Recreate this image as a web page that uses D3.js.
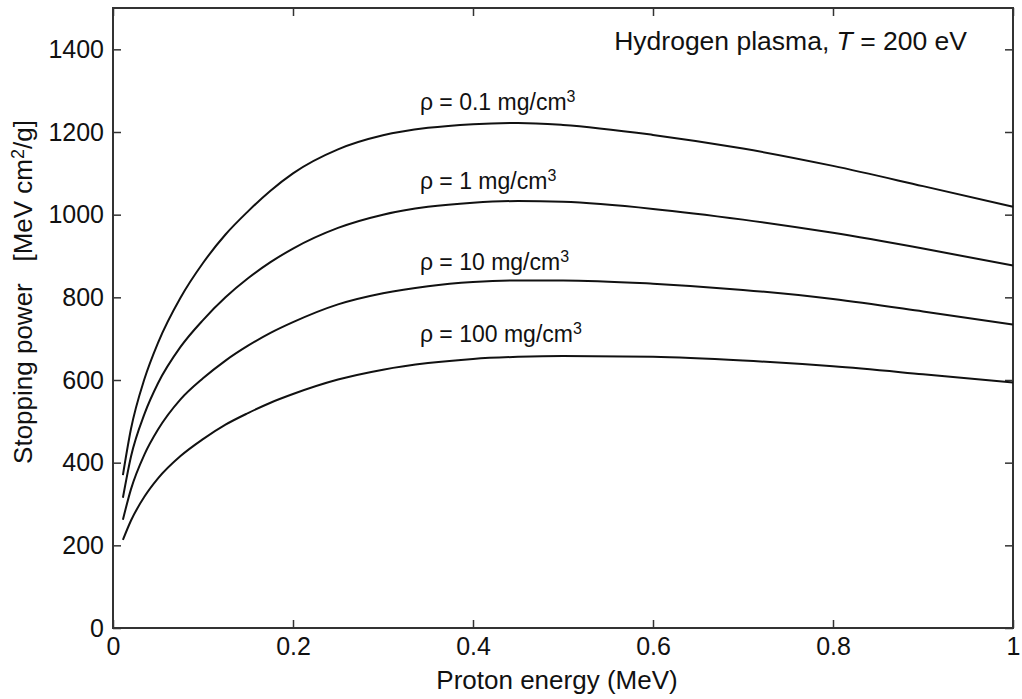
<!DOCTYPE html>
<html>
<head>
<meta charset="utf-8">
<script src="https://cdn.jsdelivr.net/npm/d3@7"></script>
<style>
  html, body { margin: 0; padding: 0; background: #fff; }
  svg { display: block; font-family: "Liberation Sans", Arial, Helvetica, sans-serif; }
</style>
</head>
<body>
<svg id="chart" width="1022" height="699"></svg>
<script>
// Proton energy grid (MeV)
const energy = [0.011, 0.02, 0.035, 0.05, 0.075, 0.1, 0.125, 0.15, 0.175, 0.2, 0.25, 0.3, 0.35, 0.4, 0.45, 0.5, 0.6, 0.7, 0.8, 0.9, 1.0];

// Stopping power (MeV cm^2/g) for each plasma density
const rho01  = [370, 482, 603, 690, 799, 883, 952, 1008, 1058, 1100, 1158, 1192, 1210, 1219, 1222, 1217, 1193, 1160, 1118, 1069, 1019];
const rho1   = [315, 415, 518, 592, 680, 745, 800, 846, 885, 918, 968, 1000, 1019, 1029, 1033, 1031, 1014, 988, 956, 918, 877];
const rho10  = [262, 336, 420, 480, 553, 604, 647, 683, 714, 740, 783, 810, 827, 837, 841, 841, 833, 818, 796, 766, 734];
const rho100 = [213, 260, 318, 362, 416, 457, 492, 520, 545, 566, 601, 625, 641, 651, 656, 658, 656, 647, 633, 614, 594];

const seriesLabels = ["0.1", "1", "10", "100"];
const seriesValues = [rho01, rho1, rho10, rho100];
// Position of each density label (energy, stopping power)
const labelEnergy = [0.341, 0.341, 0.341, 0.341];
const labelValue = [1253, 1062, 866, 692];

const xTicks = [0, 0.2, 0.4, 0.6, 0.8, 1];
const yTicks = [0, 200, 400, 600, 800, 1000, 1200, 1400];

const svg = d3.select("#chart");
const mLeft = 113, mRight = 1013, mTop = 8, mBottom = 628;

const x = d3.scaleLinear().domain([0, 1]).range([mLeft, mRight]);
const y = d3.scaleLinear().domain([0, 1500]).range([mBottom, mTop]);

const frameColor = "#333";
const inkColor = "#111";
const tickLen = 8;

// Ticks pointing inward on all four sides
const xFmt = d => d === 0 || d === 1 ? String(d) : d3.format(".1f")(d);

const axB = svg.append("g").attr("transform", `translate(0,${mBottom})`)
  .call(d3.axisBottom(x).tickValues(xTicks).tickSizeInner(-tickLen).tickSizeOuter(0).tickPadding(9).tickFormat(xFmt));
const axT = svg.append("g").attr("transform", `translate(0,${mTop})`)
  .call(d3.axisTop(x).tickValues(xTicks).tickSizeInner(-tickLen).tickSizeOuter(0).tickFormat(""));
const axL = svg.append("g").attr("transform", `translate(${mLeft},0)`)
  .call(d3.axisLeft(y).tickValues(yTicks).tickSizeInner(-tickLen).tickSizeOuter(0).tickPadding(9).tickFormat(d3.format("d")));
const axR = svg.append("g").attr("transform", `translate(${mRight},0)`)
  .call(d3.axisRight(y).tickValues(yTicks).tickSizeInner(-tickLen).tickSizeOuter(0).tickFormat(""));

[axB, axT, axL, axR].forEach(g => {
  g.select(".domain").remove();
  g.selectAll(".tick line").attr("stroke", frameColor).attr("stroke-width", 1.5);
  g.selectAll(".tick text").attr("fill", inkColor).style("font-size", "25px")
    .style("font-family", "'Liberation Sans', Arial, sans-serif");
});
axB.selectAll(".tick text").attr("dy", "0.71em");

// Plot frame
svg.append("rect")
  .attr("x", mLeft).attr("y", mTop)
  .attr("width", mRight - mLeft).attr("height", mBottom - mTop)
  .attr("fill", "none").attr("stroke", frameColor).attr("stroke-width", 2);

// Curves
const line = d3.line()
  .x((d, i) => x(energy[i]))
  .y(d => y(d))
  .curve(d3.curveMonotoneX);

svg.append("g").selectAll("path")
  .data(seriesValues)
  .join("path")
  .attr("d", d => line(d))
  .attr("fill", "none")
  .attr("stroke", inkColor)
  .attr("stroke-width", 2);

// Density labels
const lab = svg.append("g").style("font-size", "23px").attr("fill", inkColor);
seriesLabels.forEach((s, i) => {
  const t = lab.append("text")
    .attr("x", x(labelEnergy[i]))
    .attr("y", y(labelValue[i]));
  t.append("tspan").text(`ρ = ${s} mg/cm`);
  t.append("tspan").attr("dy", -8).style("font-size", "16px").text("3");
});

// Plasma description
const title = svg.append("text")
  .attr("x", 967).attr("y", 50)
  .attr("text-anchor", "end")
  .style("font-size", "26.5px")
  .attr("fill", inkColor);
title.append("tspan").text("Hydrogen plasma, ");
title.append("tspan").style("font-style", "italic").text("T");
title.append("tspan").text(" = 200 eV");

// Axis titles
svg.append("text")
  .attr("x", 557).attr("y", 689)
  .attr("text-anchor", "middle")
  .style("font-size", "26px").attr("fill", inkColor)
  .text("Proton energy (MeV)");

const yt = svg.append("text")
  .attr("transform", `translate(32,292) rotate(-90)`)
  .attr("text-anchor", "middle")
  .style("font-size", "26px").attr("fill", inkColor)
  .attr("xml:space", "preserve")
  .style("white-space", "pre");
yt.append("tspan").text("Stopping power   [MeV cm");
yt.append("tspan").attr("dy", -8).style("font-size", "18px").text("2");
yt.append("tspan").attr("dy", 8).text("/g]");
</script>
</body>
</html>
